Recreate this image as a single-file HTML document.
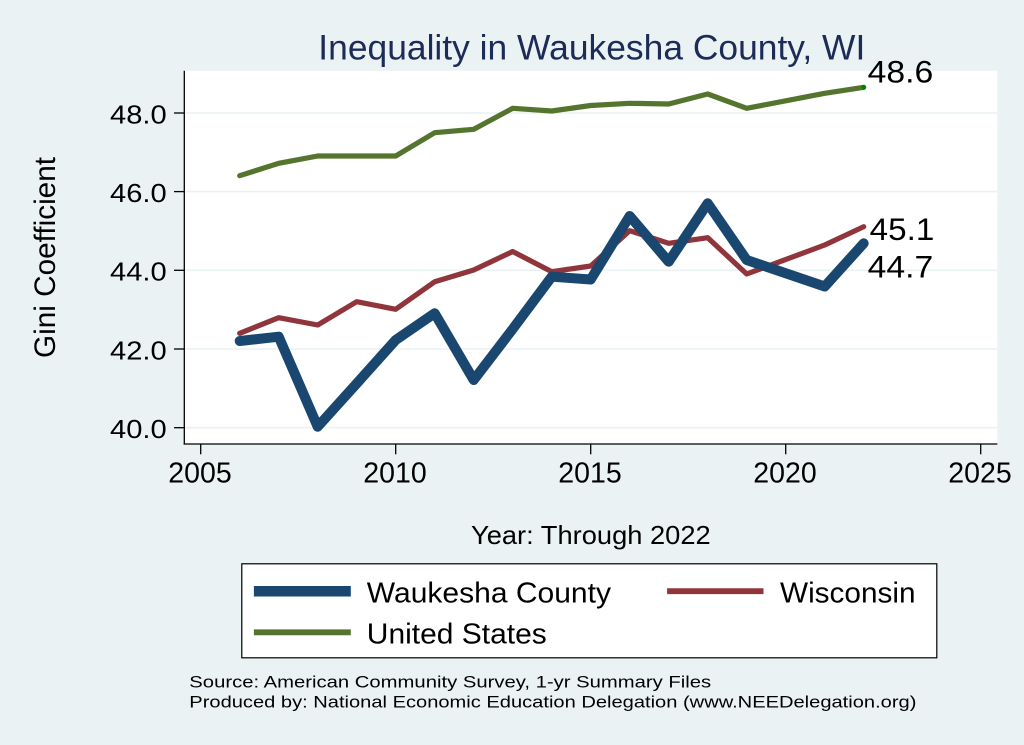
<!DOCTYPE html>
<html>
<head>
<meta charset="utf-8">
<style>
html,body{margin:0;padding:0;background:#eaf2f3;}
svg{display:block;}
text{font-family:"Liberation Sans", Arial, sans-serif;}
</style>
</head>
<body>
<svg width="1024" height="745" viewBox="0 0 1024 745" xmlns="http://www.w3.org/2000/svg">
  <rect x="0" y="0" width="1024" height="745" fill="#eaf2f3"/>
  <!-- title -->
  <text x="318.3" y="59.3" font-size="35" fill="#1c2b57" textLength="547" lengthAdjust="spacingAndGlyphs">Inequality in Waukesha County, WI</text>
  <!-- plot region -->
  <rect x="184.3" y="70.7" width="813" height="373.3" fill="#ffffff"/>
  <!-- gridlines -->
  <g stroke="#eaf2f3" stroke-width="1.6">
    <line x1="185" y1="113" x2="997" y2="113"/>
    <line x1="185" y1="191.6" x2="997" y2="191.6"/>
    <line x1="185" y1="270.3" x2="997" y2="270.3"/>
    <line x1="185" y1="349" x2="997" y2="349"/>
    <line x1="185" y1="427.7" x2="997" y2="427.7"/>
  </g>
  <!-- axes -->
  <g stroke="#000" stroke-width="1.3" fill="none">
    <line x1="184.3" y1="70.7" x2="184.3" y2="444.3"/>
    <line x1="183.6" y1="444" x2="997.3" y2="444"/>
    <line x1="174" y1="113" x2="184.3" y2="113"/>
    <line x1="174" y1="191.6" x2="184.3" y2="191.6"/>
    <line x1="174" y1="270.3" x2="184.3" y2="270.3"/>
    <line x1="174" y1="349" x2="184.3" y2="349"/>
    <line x1="174" y1="427.7" x2="184.3" y2="427.7"/>
    <line x1="200.7" y1="444" x2="200.7" y2="454.3"/>
    <line x1="395.7" y1="444" x2="395.7" y2="454.3"/>
    <line x1="590.7" y1="444" x2="590.7" y2="454.3"/>
    <line x1="785.7" y1="444" x2="785.7" y2="454.3"/>
    <line x1="980.7" y1="444" x2="980.7" y2="454.3"/>
  </g>
  <!-- y tick labels -->
  <g font-size="26" fill="#000">
    <text x="110" y="123.3" textLength="56.7" lengthAdjust="spacingAndGlyphs">48.0</text>
    <text x="110" y="201.9" textLength="56.7" lengthAdjust="spacingAndGlyphs">46.0</text>
    <text x="110" y="280.6" textLength="56.7" lengthAdjust="spacingAndGlyphs">44.0</text>
    <text x="110" y="359.3" textLength="56.7" lengthAdjust="spacingAndGlyphs">42.0</text>
    <text x="110" y="438" textLength="56.7" lengthAdjust="spacingAndGlyphs">40.0</text>
  </g>
  <!-- x tick labels -->
  <g font-size="29" fill="#000">
    <text x="168.3" y="482.7" textLength="63.4" lengthAdjust="spacingAndGlyphs">2005</text>
    <text x="363.3" y="482.7" textLength="63.4" lengthAdjust="spacingAndGlyphs">2010</text>
    <text x="558.3" y="482.7" textLength="63.4" lengthAdjust="spacingAndGlyphs">2015</text>
    <text x="753.3" y="482.7" textLength="63.4" lengthAdjust="spacingAndGlyphs">2020</text>
    <text x="948.3" y="482.7" textLength="63.4" lengthAdjust="spacingAndGlyphs">2025</text>
  </g>
  <!-- axis titles -->
  <text transform="translate(55,358) rotate(-90)" x="0" y="0" font-size="30" fill="#000" textLength="201" lengthAdjust="spacingAndGlyphs">Gini Coefficient</text>
  <text x="471" y="544" font-size="26" fill="#000" textLength="239.7" lengthAdjust="spacingAndGlyphs">Year: Through 2022</text>

  <!-- series -->
  <g fill="none" stroke-linejoin="round" stroke-linecap="round">
    <polyline stroke="#55752f" stroke-width="5.2" points="239.7,175.7 278.7,163.3 317.7,156 356.7,156 395.7,156 434.7,132.7 473.7,129.3 512.7,108.3 551.7,111 590.7,105.5 629.7,103.3 668.7,104 707.7,94 746.7,108.3 824.7,93.3 863.7,87.3"/>
    <polyline stroke="#90353b" stroke-width="5.2" points="239.7,333.3 278.7,317.7 317.7,325 356.7,301.7 395.7,309.3 434.7,281.7 473.7,270 512.7,251.5 551.7,271.7 590.7,266 629.7,230.7 668.7,243.3 707.7,237.7 746.7,274 824.7,245 863.7,226.7"/>
    <polyline stroke="#1a476f" stroke-width="10" points="239.7,341 278.7,336.7 317.7,426.7 356.7,383.5 395.7,340 434.7,313.3 473.7,380 512.7,329 551.7,276.7 590.7,279.5 629.7,216 668.7,261.7 707.7,203.3 746.7,260 824.7,286.5 863.7,243.3"/>
  </g>
  <circle cx="863.7" cy="87.3" r="2.3" fill="#008000"/>

  <!-- end labels -->
  <g font-size="31.7" fill="#000">
    <text x="867.7" y="82.7" textLength="65.6" lengthAdjust="spacingAndGlyphs">48.6</text>
    <text x="869.7" y="240" textLength="64.6" lengthAdjust="spacingAndGlyphs">45.1</text>
    <text x="867.7" y="277.3" textLength="65.6" lengthAdjust="spacingAndGlyphs">44.7</text>
  </g>

  <!-- legend -->
  <rect x="241.8" y="563.8" width="695" height="94" fill="#ffffff" stroke="#000" stroke-width="1.2"/>
  <line x1="253.9" y1="591.3" x2="350.8" y2="591.3" stroke="#1a476f" stroke-width="10.5"/>
  <line x1="667.1" y1="591.2" x2="763.5" y2="591.2" stroke="#90353b" stroke-width="5.8"/>
  <line x1="253.9" y1="632.3" x2="350.8" y2="632.3" stroke="#55752f" stroke-width="5.8"/>
  <g font-size="29" fill="#000">
    <text x="366.8" y="602.3" textLength="244.2" lengthAdjust="spacingAndGlyphs">Waukesha County</text>
    <text x="780" y="602.3" textLength="135.5" lengthAdjust="spacingAndGlyphs">Wisconsin</text>
    <text x="366.8" y="643.3" textLength="180" lengthAdjust="spacingAndGlyphs">United States</text>
  </g>

  <!-- footer -->
  <g font-size="17" fill="#000">
    <text x="189.3" y="687.3" textLength="521.9" lengthAdjust="spacingAndGlyphs">Source: American Community Survey, 1-yr Summary Files</text>
    <text x="189.3" y="707.3" textLength="727.1" lengthAdjust="spacingAndGlyphs">Produced by: National Economic Education Delegation (www.NEEDelegation.org)</text>
  </g>
</svg>
</body>
</html>
